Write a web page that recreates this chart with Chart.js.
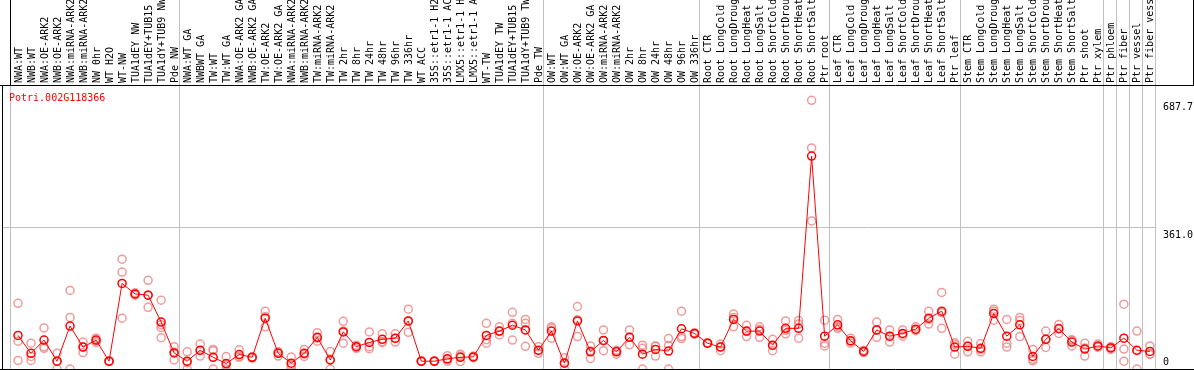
<!DOCTYPE html>
<html>
<head>
<meta charset="utf-8">
<script src="https://cdn.jsdelivr.net/npm/chart.js@4/dist/chart.umd.min.js"></script>
<style>
  html, body { margin: 0; padding: 0; background: #fff; }
  #wrap { width: 1194px; height: 370px; }
</style>
</head>
<body>
<div id="wrap"><canvas id="c" width="1194" height="370"></canvas></div>
<script>
const GENE = "Potri.002G118366";

// sample names, in plot order
const labels = [
  "NWA:WT", "NWB:WT", "NWA:OE-ARK2", "NWB:OE-ARK2", "NWA:miRNA-ARK2", "NWB:miRNA-ARK2", "NW 0hr", "WT H2O", "WT-NW",
  "TUA1dEY NW", "TUA1dEY+TUB15 NW", "TUA1dY+TUB9 NW", "Pde NW",
  "NWA:WT GA", "NWBWT GA", "TW:WT", "TW:WT GA", "NWA:OE-ARK2 GA", "NWB:OE-ARK2 GA", "TW:OE-ARK2", "TW:OE-ARK2 GA",
  "NWA:miRNA-ARK2 GA", "NWB:miRNA-ARK2 GA", "TW:miRNA-ARK2", "TW:miRNA-ARK2 GA",
  "TW 2hr", "TW 8hr", "TW 24hr", "TW 48hr", "TW 96hr", "TW 336hr", "WT ACC",
  "35S::etr1-1 H2O", "35S::etr1-1 ACC", "LMX5::etr1-1 H2O", "LMX5::etr1-1 ACC",
  "WT-TW", "TUA1dEY TW", "TUA1dEY+TUB15 TW", "TUA1dY+TUB9 TW", "Pde TW",
  "OW:WT", "OW:WT GA", "OW:OE-ARK2", "OW:OE-ARK2 GA", "OW:miRNA-ARK2", "OW:miRNA-ARK2 GA",
  "OW 2hr", "OW 8hr", "OW 24hr", "OW 48hr", "OW 96hr", "OW 336hr",
  "Root CTR", "Root LongCold", "Root LongDrought", "Root LongHeat", "Root LongSalt",
  "Root ShortCold", "Root ShortDrought", "Root ShortHeat", "Root ShortSalt", "Ptr root",
  "Leaf CTR", "Leaf LongCold", "Leaf LongDrought", "Leaf LongHeat", "Leaf LongSalt",
  "Leaf ShortCold", "Leaf ShortDrought", "Leaf ShortHeat", "Leaf ShortSalt", "Ptr leaf",
  "Stem CTR", "Stem LongCold", "Stem LongDrought", "Stem LongHeat", "Stem LongSalt",
  "Stem ShortCold", "Stem ShortDrought", "Stem ShortHeat", "Stem ShortSalt", "Ptr shoot", "Ptr xylem",
  "Ptr phloem", "Ptr fiber", "Ptr vessel", "Ptr fiber vessel"
];

// first sample index of each experiment block (last = end)
const groupStarts = [0, 13, 41, 53, 63, 73, 84, 85, 86, 87, 88];

// mean expression (red line)
const means = [
  86, 40, 74, 20, 110, 56, 74, 20, 219, 192,
  189, 120, 41, 20, 48, 30, 14, 37, 30, 130,
  40, 15, 40, 81, 23, 95, 57, 68, 76, 79,
  123, 20, 20, 26, 30, 31, 86, 97, 112, 100,
  48, 97, 15, 123, 44, 73, 44, 81, 38, 50,
  46, 103, 91, 66, 56, 127, 97, 97, 61, 104,
  104, 545, 84, 113, 72, 45, 100, 84, 91, 102,
  130, 148, 56, 58, 53, 142, 84, 113, 32, 76,
  103, 69, 51, 59, 54, 79, 48, 45
];

// replicates (pink circles)
const rep1 = [
  168, 66, 105, 40, 201, 69, 79, 21, 281, 195,
  227, 176, 57, 44, 64, 50, 32, 49, 31, 148,
  44, 31, 50, 93, 45, 122, 57, 95, 90, 90,
  153, 20, 20, 34, 33, 31, 117, 108, 145, 127,
  57, 108, 29, 160, 59, 100, 48, 100, 61, 59,
  78, 148, 93, 67, 64, 141, 112, 108, 76, 123,
  124, 687.7, 125, 127, 79, 45, 120, 100, 100, 108,
  148, 196, 67, 71, 65, 153, 127, 132, 50, 97,
  114, 74, 66, 64, 57, 166, 97, 59
];
const rep2 = [
  71, 32, 57, 0, 132, 42, 72, 19, 248, 192,
  189, 113, 23, 0, 33, 47, 10, 32, 30, 108,
  33, 10, 32, 71, 0, 66, 53, 52, 68, 69,
  94, 19, 21, 20, 19, 29, 66, 87, 74, 117,
  40, 79, 0, 83, 27, 47, 38, 62, 53, 33,
  0, 83, 90, 65, 47, 108, 83, 81, 47, 90,
  115, 566, 66, 108, 66, 42, 81, 69, 84, 100,
  115, 104, 38, 44, 44, 125, 66, 124, 21, 76,
  91, 59, 33, 57, 50, 51, 0, 38
];
const rep3 = [
  22, 22, 53, 20, 0, 56, 68, 20, 130, 189,
  158, 106, 43, 16, 47, 0, 0, 30, 28, 134,
  43, 4, 38, 79, 24, 97, 61, 57, 70, 78,
  122, 21, 19, 24, 38, 33, 75, 96, 117, 100,
  47, 104, 16, 126, 46, 72, 46, 81, 0, 58,
  60, 78, 89, 66, 57, 132, 96, 102, 60, 99,
  79, 379, 59, 104, 71, 48, 99, 83, 89, 98,
  127, 144, 63, 59, 50, 148, 56, 83, 25, 55,
  104, 74, 54, 56, 55, 20, 47, 38
];
// the two samples with a 4th replicate: [index, value]
const rep4 = [[11, 80], [39, 58]];

const yTicks = [361.0, 687.7];
const yZero = [0];
const Y_MAX = 727;
const X_MIN = -1.23, X_MAX = 87.47;
const CELL_EDGE = 0.59; // block separators sit this far left of a sample

const RED = "#ff0000", PINK = "rgba(236,130,130,0.8)", GRID = "#c0c0c0";
const FONT = { family: "'DejaVu Sans Mono', monospace", size: 10 };

const pts = arr => arr.map((v, i) => ({ x: i, y: v }));
const repSet = d => ({
  type: "scatter", data: d, showLine: false, order: 1,
  pointRadius: 4, pointBorderWidth: 1.5, pointBorderColor: PINK, pointBackgroundColor: "rgba(0,0,0,0)"
});
// keep the plot box fixed: no automatic label padding
const noPad = s => { s.paddingLeft = s.paddingRight = s.paddingTop = s.paddingBottom = 0; };

// black frame + gene name
const frame = {
  id: "frame",
  afterDraw(chart) {
    const { ctx, chartArea: a } = chart;
    ctx.save();
    ctx.strokeStyle = "#000";
    ctx.lineWidth = 1;
    ctx.beginPath();
    ctx.moveTo(0, a.top + 0.5); ctx.lineTo(chart.width, a.top + 0.5);
    ctx.moveTo(0, a.bottom + 0.5); ctx.lineTo(chart.width, a.bottom + 0.5);
    ctx.moveTo(a.left + 0.5, a.top); ctx.lineTo(a.left + 0.5, chart.height);
    ctx.moveTo(chart.width - 0.5, 0); ctx.lineTo(chart.width - 0.5, a.top);
    ctx.stroke();
    ctx.fillStyle = RED;
    ctx.font = "10px 'DejaVu Sans Mono'";
    ctx.fillText(GENE, 9, 101);
    ctx.restore();
  }
};

new Chart(document.getElementById("c"), {
  type: "line",
  data: {
    datasets: [
      { label: "mean", data: pts(means), order: 0, borderColor: RED, borderWidth: 1, tension: 0,
        pointRadius: 4, pointBorderWidth: 1.5, pointBorderColor: RED, pointBackgroundColor: "rgba(0,0,0,0)" },
      repSet(pts(rep1)), repSet(pts(rep2)), repSet(pts(rep3)),
      repSet(rep4.map(([i, v]) => ({ x: i, y: v })))
    ]
  },
  options: {
    responsive: false,
    animation: false,
    layout: { autoPadding: false, padding: { left: 2, right: 0, top: 0, bottom: 1 } },
    plugins: { legend: { display: false }, tooltip: { enabled: false } },
    scales: {
      x: {
        type: "linear", position: "top", min: X_MIN, max: X_MAX, weight: 1,
        afterBuildTicks: s => { s.ticks = labels.map((_, i) => ({ value: i })); },
        afterFit: s => { s.height = 85; noPad(s); },
        grid: { display: false, drawTicks: false },
        border: { display: false },
        ticks: { autoSkip: false, minRotation: 90, maxRotation: 90, padding: 2, labelOffset: 13, font: FONT, color: "#000",
          callback: v => labels[v] ?? "" }
      },
      xb: {
        type: "linear", position: "top", min: X_MIN, max: X_MAX, weight: 0,
        afterBuildTicks: s => { s.ticks = groupStarts.map(i => ({ value: i - CELL_EDGE })); },
        afterFit: s => { s.height = 0; noPad(s); },
        grid: { color: GRID, tickLength: 85, tickColor: c => c.index === 0 ? "#000" : GRID },
        border: { display: false },
        ticks: { display: false }
      },
      y: {
        position: "right", min: 0, max: Y_MAX, weight: 1,
        afterBuildTicks: s => { s.ticks = yTicks.map(v => ({ value: v })); },
        afterFit: s => { s.width = 38; noPad(s); },
        grid: { color: c => c.tick && c.tick.value === 361 ? GRID : "rgba(0,0,0,0)", drawTicks: false },
        border: { display: false },
        ticks: { padding: 7, crossAlign: "near", labelOffset: 7, font: FONT, color: "#000", callback: v => v.toFixed(1) }
      },
      y0: {
        position: "right", min: 0, max: Y_MAX, weight: 0,
        afterBuildTicks: s => { s.ticks = yZero.map(v => ({ value: v })); },
        afterFit: s => { s.width = 0; noPad(s); },
        grid: { display: false, drawTicks: false },
        border: { display: false },
        ticks: { mirror: true, padding: 13, labelOffset: -7, font: FONT, color: "#000", callback: v => String(v) }
      }
    }
  },
  plugins: [frame]
});
</script>
</body>
</html>
